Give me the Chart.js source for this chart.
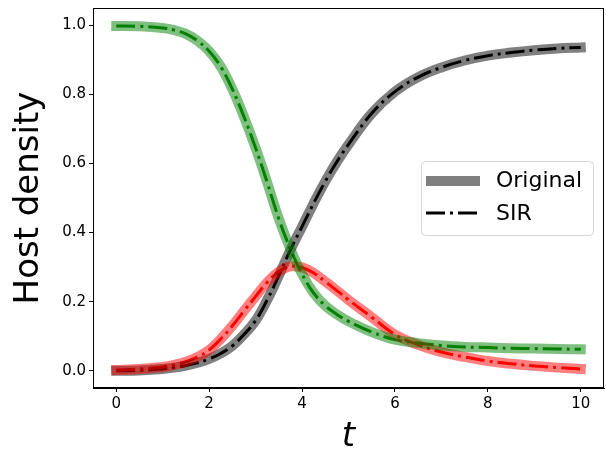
<!DOCTYPE html>
<html lang="en">
<head>
  <meta charset="UTF-8">
  <title>Host density</title>
  <script src="https://cdn.jsdelivr.net/npm/chart.js"></script>
  <style>
    html, body { margin: 0; padding: 0; background: white; }
    #wrap { width: 606px; height: 452px; }
  </style>
</head>
<body>
  <div id="wrap"><canvas id="sirChart" width="606" height="452"></canvas></div>

  <script>
    // values
    const times = [0, 0.5, 1, 1.25, 1.5, 1.75, 2, 2.25, 2.5, 2.75, 3, 3.25, 3.5, 3.75, 4, 4.25, 4.5, 4.75, 5, 5.5, 6, 6.5, 7, 7.5, 8, 8.5, 9, 9.5, 10];
    const susceptible = [0.998, 0.997, 0.992, 0.986, 0.975, 0.955, 0.925, 0.88, 0.815, 0.735, 0.645, 0.545, 0.44, 0.352, 0.28, 0.225, 0.188, 0.163, 0.143, 0.112, 0.09, 0.08, 0.073, 0.069, 0.067, 0.065, 0.064, 0.063, 0.062];
    const infected = [0.002, 0.005, 0.011, 0.017, 0.026, 0.04, 0.06, 0.092, 0.13, 0.173, 0.215, 0.256, 0.287, 0.302, 0.299, 0.283, 0.258, 0.232, 0.205, 0.155, 0.105, 0.075, 0.054, 0.04, 0.028, 0.02, 0.014, 0.009, 0.005];
    const recovered = [0.0, 0.001, 0.005, 0.009, 0.015, 0.023, 0.034, 0.05, 0.072, 0.105, 0.145, 0.205, 0.275, 0.35, 0.417, 0.485, 0.548, 0.605, 0.655, 0.745, 0.808, 0.85, 0.878, 0.898, 0.912, 0.921, 0.928, 0.933, 0.936];
    const xTicks = [0, 2, 4, 6, 8, 10];
    const yTicks = [0.0, 0.2, 0.4, 0.6, 0.8, 1.0];
    const legendLabels = ['Original', 'SIR'];

    const toPoints = (ys) => times.map((t, i) => ({ x: t, y: ys[i] }));

    function original(ys, color) {
      return {
        data: toPoints(ys),
        borderColor: color,
        borderWidth: 10,
        borderCapStyle: 'square',
        pointRadius: 0,
        tension: 0.4,
        fill: false
      };
    }
    function sir(ys, color) {
      return {
        data: toPoints(ys),
        borderColor: color,
        borderWidth: 3,
        borderDash: [19, 5, 3, 5],
        pointRadius: 0,
        tension: 0.4,
        fill: false
      };
    }

    const font = "'DejaVu Sans', sans-serif";

    const framePlugin = {
      id: 'frame',
      afterDraw(chart) {
        const { ctx, chartArea: a } = chart;
        ctx.save();
        ctx.strokeStyle = '#000';
        ctx.lineWidth = 1;
        ctx.strokeRect(a.left + 0.5, a.top + 0.5, a.right - a.left - 1, a.bottom - a.top - 1);

        // legend box
        const bx = a.right - 183, by = a.top + 153, bw = 172, bh = 74;
        ctx.fillStyle = 'rgba(255,255,255,0.8)';
        ctx.strokeStyle = '#d6d6d6';
        ctx.beginPath();
        ctx.roundRect(bx + 0.5, by + 0.5, bw, bh, 4);
        ctx.fill();
        ctx.stroke();

        ctx.lineWidth = 10;
        ctx.strokeStyle = 'rgba(0,0,0,0.5)';
        ctx.beginPath();
        ctx.moveTo(bx + 5, by + 20);
        ctx.lineTo(bx + 59, by + 20);
        ctx.stroke();

        ctx.lineWidth = 3;
        ctx.strokeStyle = '#000';
        ctx.setLineDash([19, 5, 3, 5]);
        ctx.beginPath();
        ctx.moveTo(bx + 5, by + 52);
        ctx.lineTo(bx + 59, by + 52);
        ctx.stroke();
        ctx.setLineDash([]);

        ctx.fillStyle = '#000';
        ctx.font = '22px ' + font;
        ctx.textBaseline = 'middle';
        ctx.fillText(legendLabels[0], bx + 75, by + 20);
        ctx.fillText(legendLabels[1], bx + 75, by + 53);
        ctx.restore();
      }
    };

    new Chart(document.getElementById('sirChart'), {
      type: 'line',
      data: {
        datasets: [
          original(susceptible, 'rgba(0,128,0,0.5)'),
          original(infected, 'rgba(255,0,0,0.5)'),
          original(recovered, 'rgba(0,0,0,0.5)'),
          sir(susceptible, '#008000'),
          sir(infected, '#ff0000'),
          sir(recovered, '#000000')
        ]
      },
      options: {
        responsive: false,
        animation: false,
        layout: { padding: { top: 8, right: 2, left: 0, bottom: 0 } },
        plugins: { legend: { display: false }, tooltip: { enabled: false } },
        scales: {
          x: {
            type: 'linear',
            min: -0.5,
            max: 10.5,
            afterBuildTicks: (axis) => { axis.ticks = xTicks.map(v => ({ value: v })); },
            afterFit: (axis) => { axis.height = 64; axis.paddingLeft = 0; axis.paddingRight = 0; },
            grid: { drawOnChartArea: false, tickLength: 4, tickColor: '#000' },
            border: { color: '#000' },
            ticks: { color: '#000', font: { family: font, size: 15 }, padding: 3, maxRotation: 0 },
            title: { display: true, text: 't', color: '#000', font: { family: font, size: 34, style: 'italic', lineHeight: 0.9 }, padding: { top: 0, bottom: 0 } }
          },
          y: {
            min: -0.05,
            max: 1.05,
            afterBuildTicks: (axis) => { axis.ticks = yTicks.map(v => ({ value: v })); },
            afterFit: (axis) => { axis.width = 93; axis.paddingTop = 0; axis.paddingBottom = 0; },
            grid: { drawOnChartArea: false, tickLength: 4, tickColor: '#000' },
            border: { color: '#000' },
            ticks: { color: '#000', font: { family: font, size: 15 }, padding: 3, callback: (v) => v.toFixed(1) },
            title: { display: true, text: 'Host density', color: '#000', font: { family: font, size: 34 }, padding: { top: 9, bottom: 0 } }
          }
        }
      },
      plugins: [framePlugin]
    });
  </script>
</body>
</html>
